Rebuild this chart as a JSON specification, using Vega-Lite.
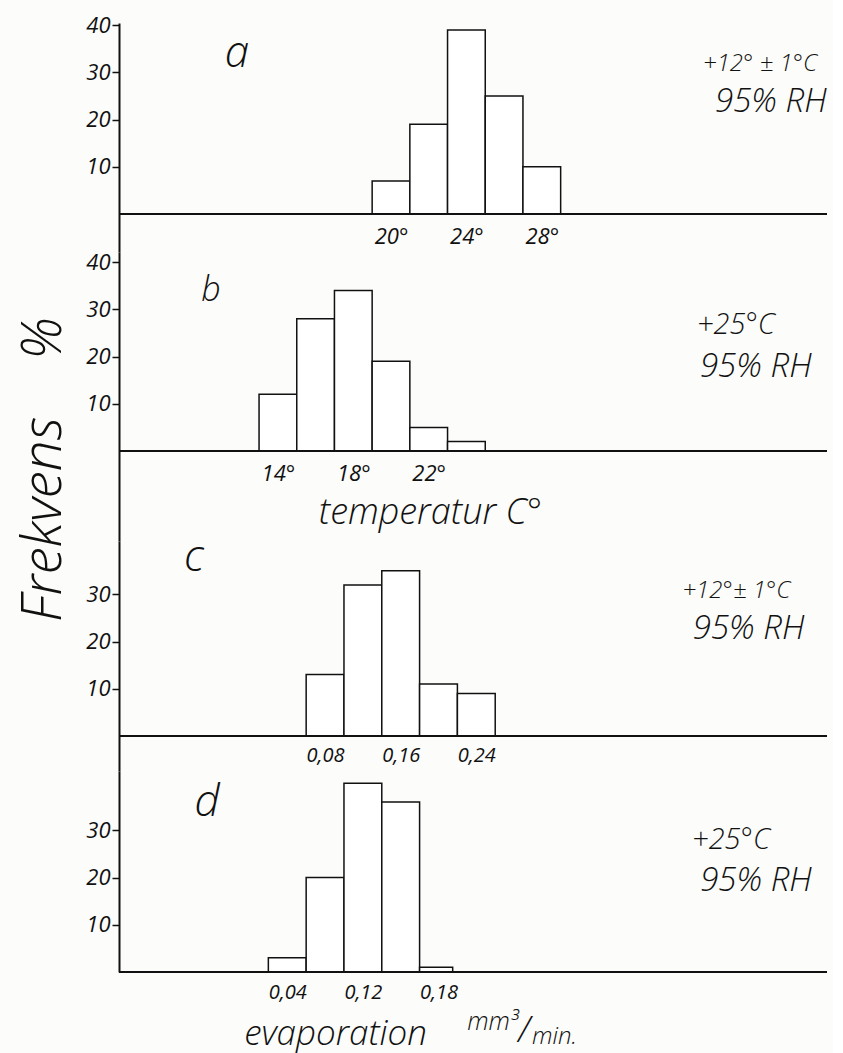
{
  "$schema": "https://vega.github.io/schema/vega-lite/v6.json",
  "background": "#fcfcfa",
  "padding": {"left": 15, "top": 14, "right": 5, "bottom": 5},
  "datasets": {
    "a": [
      {"lo": 19, "hi": 21, "freq": 7},
      {"lo": 21, "hi": 23, "freq": 19},
      {"lo": 23, "hi": 25, "freq": 39},
      {"lo": 25, "hi": 27, "freq": 25},
      {"lo": 27, "hi": 29, "freq": 10}
    ],
    "b": [
      {"lo": 13, "hi": 15, "freq": 12},
      {"lo": 15, "hi": 17, "freq": 28},
      {"lo": 17, "hi": 19, "freq": 34},
      {"lo": 19, "hi": 21, "freq": 19},
      {"lo": 21, "hi": 23, "freq": 5},
      {"lo": 23, "hi": 25, "freq": 2}
    ],
    "c": [
      {"lo": 0.06, "hi": 0.10, "freq": 13},
      {"lo": 0.10, "hi": 0.14, "freq": 32},
      {"lo": 0.14, "hi": 0.18, "freq": 35},
      {"lo": 0.18, "hi": 0.22, "freq": 11},
      {"lo": 0.22, "hi": 0.26, "freq": 9}
    ],
    "d": [
      {"lo": 0.02, "hi": 0.06, "freq": 3},
      {"lo": 0.06, "hi": 0.10, "freq": 20},
      {"lo": 0.10, "hi": 0.14, "freq": 40},
      {"lo": 0.14, "hi": 0.18, "freq": 36},
      {"lo": 0.18, "hi": 0.215, "freq": 1}
    ],
    "one": [{}]
  },
  "vconcat": [
    {
      "width": 708,
      "height": 229,
      "layer": [
        {
          "data": {"name": "a"},
          "mark": {"type": "rect", "fill": "white", "stroke": "#111", "strokeWidth": 1.5},
          "encoding": {
            "x": {"field": "lo", "type": "quantitative",
              "scale": {"domain": [5.57, 43.13], "nice": false, "zero": false},
              "axis": {"values": [20, 24, 28], "labelExpr": "datum.value + '°'", "domain": false, "ticks": false, "tickSize": 0, "title": null, "offset": -38, "labelPadding": 12, "labelFontSize": 22}},
            "x2": {"field": "hi"},
            "y": {"field": "freq", "type": "quantitative",
              "scale": {"domain": [-8.05, 40.47], "nice": false, "zero": false},
              "axis": {"values": [10, 20, 30, 40], "title": null, "domainWidth": 2, "tickWidth": 1.5, "tickSize": 7, "labelPadding": 2, "labelFontSize": 22}},
            "y2": {"datum": 0}
          }
        },
        {"data": {"name": "one"}, "mark": {"type": "rule", "strokeWidth": 2, "color": "#111"}, "encoding": {"y": {"datum": 0}}},
        {"data": {"name": "one"}, "mark": {"type": "text", "text": "a", "fontSize": 44, "fontWeight": 300, "align": "center", "baseline": "middle"}, "encoding": {"x": {"datum": 11.83}, "y": {"datum": 33.9}}},
        {"data": {"name": "one"}, "mark": {"type": "text", "text": "+12° ± 1°C", "fontSize": 24, "fontWeight": 300, "align": "left", "baseline": "middle"}, "encoding": {"x": {"datum": 36.55}, "y": {"datum": 31.8}}},
        {"data": {"name": "one"}, "mark": {"type": "text", "text": "95% RH", "fontSize": 33, "fontWeight": 300, "align": "left", "baseline": "middle"}, "encoding": {"x": {"datum": 37.19}, "y": {"datum": 23.7}}}
      ]
    },
    {
      "width": 708,
      "height": 289,
      "layer": [
        {
          "data": {"name": "b"},
          "mark": {"type": "rect", "fill": "white", "stroke": "#111", "strokeWidth": 1.5},
          "encoding": {
            "x": {"field": "lo", "type": "quantitative",
              "scale": {"domain": [5.57, 43.13], "nice": false, "zero": false},
              "axis": {"values": [14, 18, 22], "labelExpr": "datum.value + '°'", "domain": false, "ticks": false, "tickSize": 0, "offset": -90, "labelPadding": 12, "labelFontSize": 22,
                "title": "temperatur C°", "titleFontSize": 36, "titleFontWeight": 300, "titleX": 311, "titleY": 72, "titleBaseline": "alphabetic", "titleAlign": "center"}},
            "x2": {"field": "hi"},
            "y": {"field": "freq", "type": "quantitative",
              "scale": {"domain": [-19.07, 42.16], "nice": false, "zero": false},
              "axis": {"values": [10, 20, 30, 40], "domainWidth": 2, "tickWidth": 1.5, "tickSize": 7, "labelPadding": 2, "labelFontSize": 22,
                "title": "Frekvens\u00a0\u00a0\u00a0\u00a0%", "titleFontSize": 55, "titleFontWeight": 300, "titleX": -59, "titleY": 217, "titleAngle": 270, "titleBaseline": "alphabetic", "titleAlign": "center"}},
            "y2": {"datum": 0}
          }
        },
        {"data": {"name": "one"}, "mark": {"type": "rule", "strokeWidth": 2, "color": "#111"}, "encoding": {"y": {"datum": 0}}},
        {"data": {"name": "one"}, "mark": {"type": "text", "text": "b", "fontSize": 34, "fontWeight": 300, "align": "center", "baseline": "middle"}, "encoding": {"x": {"datum": 10.45}, "y": {"datum": 33.9}}},
        {"data": {"name": "one"}, "mark": {"type": "text", "text": "+25°C", "fontSize": 29, "fontWeight": 300, "align": "left", "baseline": "middle"}, "encoding": {"x": {"datum": 36.23}, "y": {"datum": 26.7}}},
        {"data": {"name": "one"}, "mark": {"type": "text", "text": "95% RH", "fontSize": 33, "fontWeight": 300, "align": "left", "baseline": "middle"}, "encoding": {"x": {"datum": 36.39}, "y": {"datum": 17.8}}}
      ]
    },
    {
      "width": 708,
      "height": 230,
      "layer": [
        {
          "data": {"name": "c"},
          "mark": {"type": "rect", "fill": "white", "stroke": "#111", "strokeWidth": 1.5},
          "encoding": {
            "x": {"field": "lo", "type": "quantitative",
              "scale": {"domain": [-0.138, 0.611], "nice": false, "zero": false},
              "axis": {"values": [0.08, 0.16, 0.24], "labelExpr": "replace(format(datum.value, '.2f'), '.', ',')", "domain": false, "ticks": false, "tickSize": 0, "title": null, "offset": -35, "labelPadding": 9, "labelFontSize": 20}},
            "x2": {"field": "hi"},
            "y": {"field": "freq", "type": "quantitative",
              "scale": {"domain": [-7.42, 41.31], "nice": false, "zero": false},
              "axis": {"values": [10, 20, 30], "title": null, "domainWidth": 2, "tickWidth": 1.5, "tickSize": 7, "labelPadding": 2, "labelFontSize": 22}},
            "y2": {"datum": 0}
          }
        },
        {"data": {"name": "one"}, "mark": {"type": "rule", "strokeWidth": 2, "color": "#111"}, "encoding": {"y": {"datum": 0}}},
        {"data": {"name": "one"}, "mark": {"type": "text", "text": "c", "fontSize": 44, "fontWeight": 300, "align": "center", "baseline": "middle"}, "encoding": {"x": {"datum": -0.0586}, "y": {"datum": 37.7}}},
        {"data": {"name": "one"}, "mark": {"type": "text", "text": "+12°± 1°C", "fontSize": 24, "fontWeight": 300, "align": "left", "baseline": "middle"}, "encoding": {"x": {"datum": 0.458}, "y": {"datum": 30.7}}},
        {"data": {"name": "one"}, "mark": {"type": "text", "text": "95% RH", "fontSize": 33, "fontWeight": 300, "align": "left", "baseline": "middle"}, "encoding": {"x": {"datum": 0.469}, "y": {"datum": 22.7}}}
      ]
    },
    {
      "width": 708,
      "height": 201,
      "layer": [
        {
          "data": {"name": "d"},
          "mark": {"type": "rect", "fill": "white", "stroke": "#111", "strokeWidth": 1.5},
          "encoding": {
            "x": {"field": "lo", "type": "quantitative",
              "scale": {"domain": [-0.138, 0.611], "nice": false, "zero": false},
              "axis": {"values": [0.04, 0.12, 0.2], "labelExpr": "datum.value > 0.19 ? '0,18' : replace(format(datum.value, '.2f'), '.', ',')", "domain": false, "ticks": false, "tickSize": 0, "offset": 0, "labelPadding": 10, "labelFontSize": 20,
                "title": "evaporation", "titleFontSize": 35, "titleFontWeight": 300, "titleX": 216, "titleY": 72, "titleBaseline": "alphabetic", "titleAlign": "center"}},
            "x2": {"field": "hi"},
            "y": {"field": "freq", "type": "quantitative",
              "scale": {"domain": [0, 42.58], "nice": false, "zero": false},
              "axis": {"values": [10, 20, 30], "title": null, "domainWidth": 2, "tickWidth": 1.5, "tickSize": 7, "labelPadding": 2, "labelFontSize": 22}},
            "y2": {"datum": 0}
          }
        },
        {"data": {"name": "one"}, "mark": {"type": "rule", "strokeWidth": 2, "color": "#111"}, "encoding": {"y": {"datum": 0}}},
        {"data": {"name": "one"}, "mark": {"type": "text", "text": "d", "fontSize": 44, "fontWeight": 300, "align": "center", "baseline": "middle"}, "encoding": {"x": {"datum": -0.0449}, "y": {"datum": 35.8}}},
        {"data": {"name": "one"}, "mark": {"type": "text", "text": "+25°C", "fontSize": 29, "fontWeight": 300, "align": "left", "baseline": "middle"}, "encoding": {"x": {"datum": 0.4683}, "y": {"datum": 27.97}}},
        {"data": {"name": "one"}, "mark": {"type": "text", "text": "95% RH", "fontSize": 33, "fontWeight": 300, "align": "left", "baseline": "middle"}, "encoding": {"x": {"datum": 0.4768}, "y": {"datum": 19.3}}},
        {"data": {"name": "one"}, "mark": {"type": "text", "text": "mm³", "fontSize": 25, "fontWeight": 300, "align": "left", "baseline": "alphabetic"}, "encoding": {"x": {"datum": 0.2303}, "y": {"datum": -12.3}}},
        {"data": {"name": "one"}, "mark": {"type": "text", "text": "/", "fontSize": 36, "fontWeight": 300, "align": "center", "baseline": "alphabetic"}, "encoding": {"x": {"datum": 0.2906}, "y": {"datum": -14.8}}},
        {"data": {"name": "one"}, "mark": {"type": "text", "text": "min.", "fontSize": 24, "fontWeight": 300, "align": "left", "baseline": "alphabetic"}, "encoding": {"x": {"datum": 0.299}, "y": {"datum": -15.2}}}
      ]
    }
  ],
  "spacing": 0,
  "bounds": "flush",
  "config": {
    "view": {"stroke": null},
    "font": "Open Sans",
    "axis": {
      "labelFont": "Open Sans", "labelFontStyle": "italic", "labelColor": "#111",
      "titleFont": "Open Sans", "titleFontStyle": "italic", "titleFontWeight": "normal", "titleColor": "#111",
      "domainColor": "#111", "tickColor": "#111", "grid": false
    },
    "text": {"font": "Open Sans", "fontStyle": "italic", "fill": "#111"}
  }
}
